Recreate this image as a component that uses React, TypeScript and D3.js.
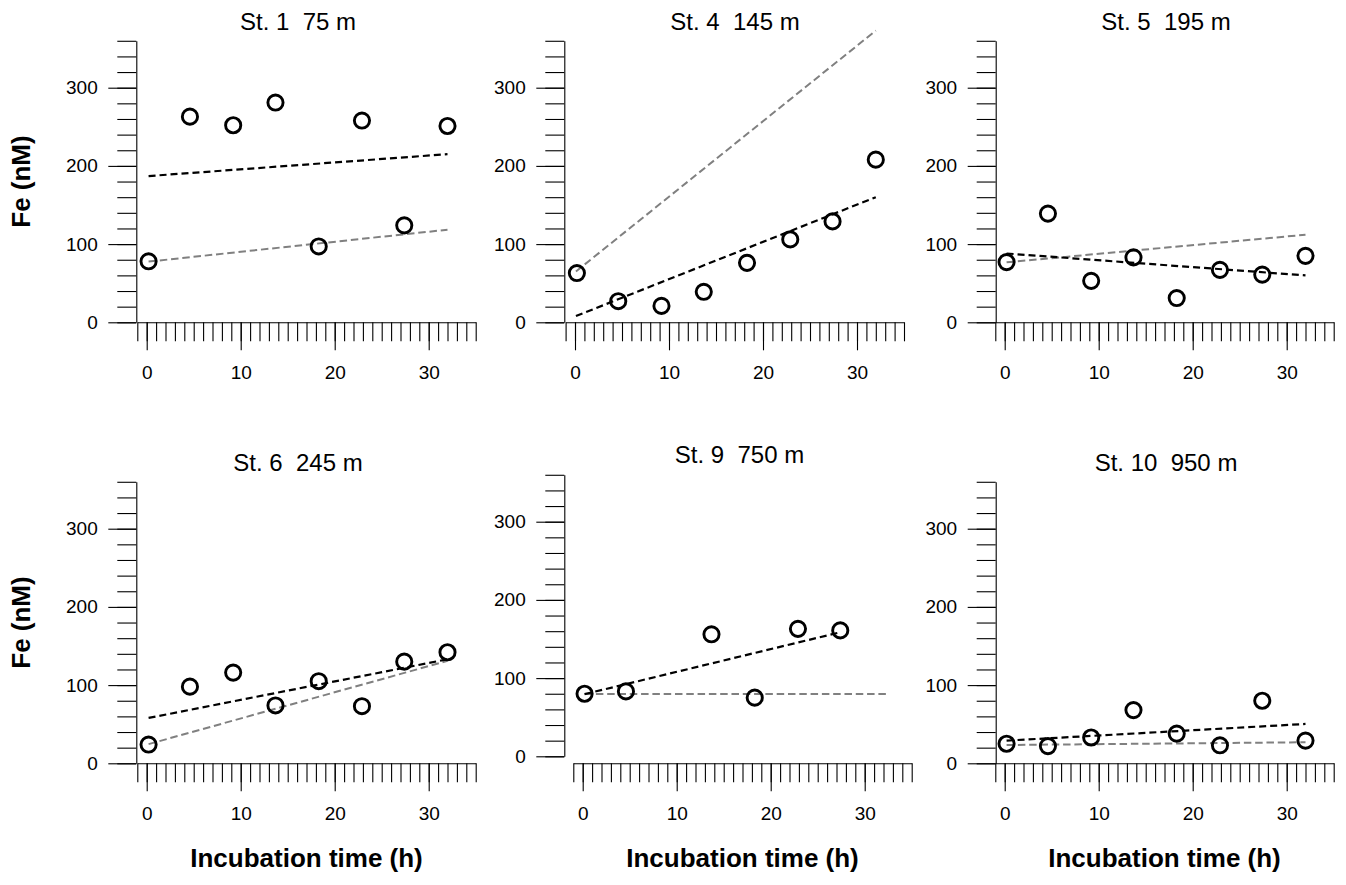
import React, { useEffect, useRef } from 'react';
import * as d3 from 'd3';

// ---------- data ----------
const stationTitles = ['St. 1  75 m', 'St. 4  145 m', 'St. 5  195 m', 'St. 6  245 m', 'St. 9  750 m', 'St. 10  950 m'];
const sampleTimes = [0.2, 4.6, 9.2, 13.7, 18.3, 22.9, 27.4, 32.0];
const st9Times = [0.2, 4.6, 13.7, 18.3, 22.9, 27.4];

const feSt1 = [78, 263, 252, 281, 97, 258, 124, 251];
const feSt4 = [63, 27, 21, 39, 76, 106, 129, 208];
const feSt5 = [77, 139, 53, 83, 31, 67, 61, 85];
const feSt6 = [24, 98, 116, 74, 105, 73, 130, 142];
const feSt9 = [80, 83, 156, 75, 163, 161];
const feSt10 = [25, 22, 33, 68, 38, 23, 80, 29];

const fitStartTime = [0.2, 0.1, 0.2, 0.2, 0.2, 0.2];
const blackFitStart = [187, 8, 88, 58, 79.5, 29];
const blackFitEnd = [215, 160, 60, 133, 158.6, 50.3];
const blackFitEndTime = [32, 32, 32, 32, 27.4, 32];
const grayFitStart = [77.6, 65, 76.7, 24.5, 79.7, 23.4];
const grayFitEnd = [118.4, 373, 112, 131, 79.7, 26.9];
const grayFitEndTime = [32, 32, 32, 32, 32.3, 32];

const yMinorTicks = d3.range(0, 361, 20);
const yMajorTicks = [0, 100, 200, 300];
const xMinorTicks = d3.range(-1, 36, 1);
const xMajorTicks = [0, 10, 20, 30];

const yLabel = 'Fe (nM)';
const xLabel = 'Incubation time (h)';

// ---------- layout ----------
const W = 1346;
const H = 885;
const PX_PER_H = 9.4;
const PX_PER_NM = 0.782;
const layout = [
  { yAxisX: 136.3, x0: 146.7, yZero: 322.3, xAxisY: 322.3, titleX: 298, titleY: 30, col: 0, row: 0 },
  { yAxisX: 564.3, x0: 575, yZero: 322.3, xAxisY: 322.3, titleX: 735, titleY: 30, col: 1, row: 0 },
  { yAxisX: 995.7, x0: 1004.7, yZero: 322.3, xAxisY: 322.3, titleX: 1166, titleY: 30, col: 2, row: 0 },
  { yAxisX: 136.3, x0: 146.7, yZero: 763.3, xAxisY: 763.3, titleX: 298, titleY: 470.7, col: 0, row: 1 },
  { yAxisX: 564.3, x0: 582.7, yZero: 756.3, xAxisY: 763.3, titleX: 739.5, titleY: 463.3, col: 1, row: 1 },
  { yAxisX: 995.7, x0: 1004.7, yZero: 763.3, xAxisY: 763.3, titleX: 1166, titleY: 470.7, col: 2, row: 1 },
];

const FONT = 'Arial, "Liberation Sans", Helvetica, sans-serif';

export default function App() {
  const ref = useRef<SVGSVGElement | null>(null);

  useEffect(() => {
    document.body.style.margin = '0';
    document.body.style.overflow = 'hidden';
    const svg = d3.select(ref.current);
    svg.selectAll('*').remove();

    const panelTimes = [sampleTimes, sampleTimes, sampleTimes, sampleTimes, st9Times, sampleTimes];
    const panelFe = [feSt1, feSt4, feSt5, feSt6, feSt9, feSt10];

    layout.forEach((L, i) => {
      const x = d3.scaleLinear().domain([-1, 35]).range([L.x0 - PX_PER_H, L.x0 + 35 * PX_PER_H]);
      const y = d3.scaleLinear().domain([0, 360]).range([L.yZero, L.yZero - 360 * PX_PER_NM]);
      const g = svg.append('g');

      // y axis minor
      const yMin = g.append('g').attr('transform', `translate(${L.yAxisX},0)`)
        .call(d3.axisLeft(y).tickValues(yMinorTicks).tickSize(19).tickSizeOuter(0).tickFormat(() => ''));
      yMin.select('.domain').remove();
      // y axis major
      const yMaj = g.append('g').attr('transform', `translate(${L.yAxisX},0)`)
        .call(d3.axisLeft(y).tickValues(yMajorTicks).tickSize(28).tickSizeOuter(0).tickPadding(10.6).tickFormat(d3.format('d')));
      yMaj.selectAll('text').attr('font-size', 19).attr('font-family', FONT).attr('fill', '#000');

      // x axis minor
      const xMin = g.append('g').attr('transform', `translate(0,${L.xAxisY})`)
        .call(d3.axisBottom(x).tickValues(xMinorTicks).tickSize(19).tickSizeOuter(0).tickFormat(() => ''));
      xMin.select('.domain').remove();
      const xMaj = g.append('g').attr('transform', `translate(0,${L.xAxisY})`)
        .call(d3.axisBottom(x).tickValues(xMajorTicks).tickSize(28).tickSizeOuter(0).tickPadding(15.5).tickFormat(d3.format('d')));
      xMaj.selectAll('text').attr('font-size', 19).attr('font-family', FONT).attr('fill', '#000');

      g.selectAll('.domain, .tick line').attr('stroke', '#000').attr('stroke-width', 1.1);

      // fit lines
      const line = d3.line<[number, number]>().x(d => x(d[0])).y(d => y(d[1]));
      g.append('path')
        .attr('d', line([[fitStartTime[i], grayFitStart[i]], [grayFitEndTime[i], grayFitEnd[i]]]))
        .attr('stroke', '#808080').attr('stroke-width', 2).attr('fill', 'none')
        .attr('stroke-dasharray', '7.5,3.8');
      g.append('path')
        .attr('d', line([[fitStartTime[i], blackFitStart[i]], [blackFitEndTime[i], blackFitEnd[i]]]))
        .attr('stroke', '#000').attr('stroke-width', 2.2).attr('fill', 'none')
        .attr('stroke-dasharray', '7,4');

      // points
      g.selectAll('circle.pt').data(panelTimes[i].map((t, k) => [t, panelFe[i][k]]))
        .enter().append('circle').attr('class', 'pt')
        .attr('cx', d => x(d[0])).attr('cy', d => y(d[1])).attr('r', 7.6)
        .attr('fill', 'none').attr('stroke', '#000').attr('stroke-width', 2.9);

      // title
      g.append('text').attr('x', L.titleX).attr('y', L.titleY).attr('text-anchor', 'middle')
        .attr('font-size', 24).attr('font-family', FONT).style('white-space', 'pre')
        .text(stationTitles[i]);

      if (L.col === 0) {
        const cy = (y(0) + y(360)) / 2;
        g.append('text').attr('transform', `translate(30,${cy}) rotate(-90)`)
          .attr('text-anchor', 'middle').attr('font-size', 26).attr('font-weight', 'bold')
          .attr('font-family', FONT).text(yLabel);
      }
      if (L.row === 1) {
        g.append('text').attr('x', (x(-1) + x(35)) / 2).attr('y', 867).attr('text-anchor', 'middle')
          .attr('font-size', 26).attr('font-weight', 'bold').attr('font-family', FONT).text(xLabel);
      }
    });
  }, []);

  return (
    <svg ref={ref} width={W} height={H} style={{ position: 'absolute', left: 0, top: 0, background: '#fff' }} />
  );
}
